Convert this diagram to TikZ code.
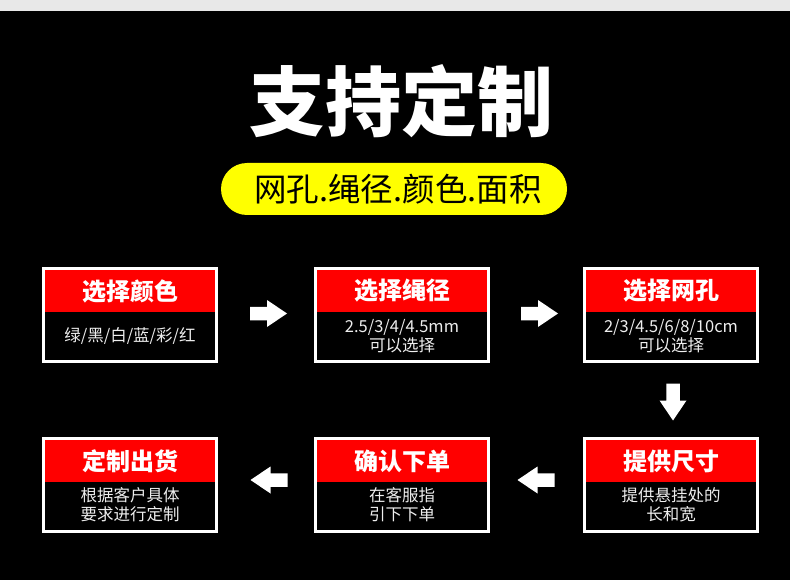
\documentclass[tikz,border=0pt]{standalone}
\usepackage{fontspec}
\setmainfont{Noto Sans CJK SC}
\definecolor{topgrey}{HTML}{E8E8E8}
\definecolor{hdrred}{HTML}{FF0000}
\definecolor{pillyellow}{HTML}{FFFF00}
\definecolor{bodywhite}{HTML}{EEEEEE}
\tikzset{
  box/.style={draw=white, line width=3pt, fill=black, minimum width=173pt, minimum height=93pt, inner sep=0pt},
  hdr/.style={fill=hdrred, text=white, minimum width=170pt, minimum height=42pt, inner sep=0pt,
              font=\fontsize{24}{27}\selectfont\bfseries},
  bodytxt/.style={text=bodywhite, align=center, inner sep=0pt, font=\fontsize{16.5}{19}\selectfont},
  pill/.style={fill=pillyellow, rounded corners=26pt, minimum width=346pt, minimum height=52pt, inner sep=0pt,
               text=black, font=\fontsize{32.5}{36}\selectfont},
  blockarrow/.pic={\fill[white] (-18.5,-6.75) -- (-1.5,-6.75) -- (-1.5,-13.5) -- (18.5,0) -- (-1.5,13.5) -- (-1.5,6.75) -- (-18.5,6.75) -- cycle;}
}
\begin{document}
\begin{tikzpicture}[x=1pt,y=-1pt]
\useasboundingbox (0,0) rectangle (790,580);
\fill[black] (0,0) rectangle (790,580);
\fill[topgrey] (0,0) rectangle (790,11);

\node[text=white, inner sep=0pt, font=\fontsize{76}{80}\selectfont\bfseries] (title) at (401,101) {支持定制};
\node[pill] (sub) at (394,189) {\hspace{8pt}网孔.绳径.颜色.面积};

% top row
\node[box] (b1) at (130,315) {};
\node[box] (b2) at (402,315) {};
\node[box] (b3) at (671,315) {};
\node[hdr] (h1) at (130,291) {选择颜色};
\node[hdr] (h2) at (402,291) {选择绳径};
\node[hdr] (h3) at (671,291) {选择网孔};
\node[bodytxt] (t1) at (130,336) {绿/黑/白/蓝/彩/红};
\node[bodytxt] (t2) at (402,336) {2.5/3/4/4.5mm\\可以选择};
\node[bodytxt] (t3) at (671,336) {2/3/4.5/6/8/10cm\\可以选择};

% bottom row
\node[box] (b4) at (130,485) {};
\node[box] (b5) at (402,485) {};
\node[box] (b6) at (671,485) {};
\node[hdr] (h4) at (130,461) {定制出货};
\node[hdr] (h5) at (402,461) {确认下单};
\node[hdr] (h6) at (671,461) {提供尺寸};
\node[bodytxt] (t4) at (130,505) {根据客户具体\\要求进行定制};
\node[bodytxt] (t5) at (402,505) {在客服指\\引下下单};
\node[bodytxt] (t6) at (671,505) {提供悬挂处的\\长和宽};

% arrows
\coordinate (a12) at (268.5,313.5);
\coordinate (a23) at (539.5,313.5);
\coordinate (a36) at (673,402);
\coordinate (a65) at (536,480);
\coordinate (a54) at (269,480);
\pic at (a12) {blockarrow};
\pic at (a23) {blockarrow};
\pic[rotate=-90] at (a36) {blockarrow};
\pic[rotate=180] at (a65) {blockarrow};
\pic[rotate=180] at (a54) {blockarrow};
\end{tikzpicture}
\end{document}
